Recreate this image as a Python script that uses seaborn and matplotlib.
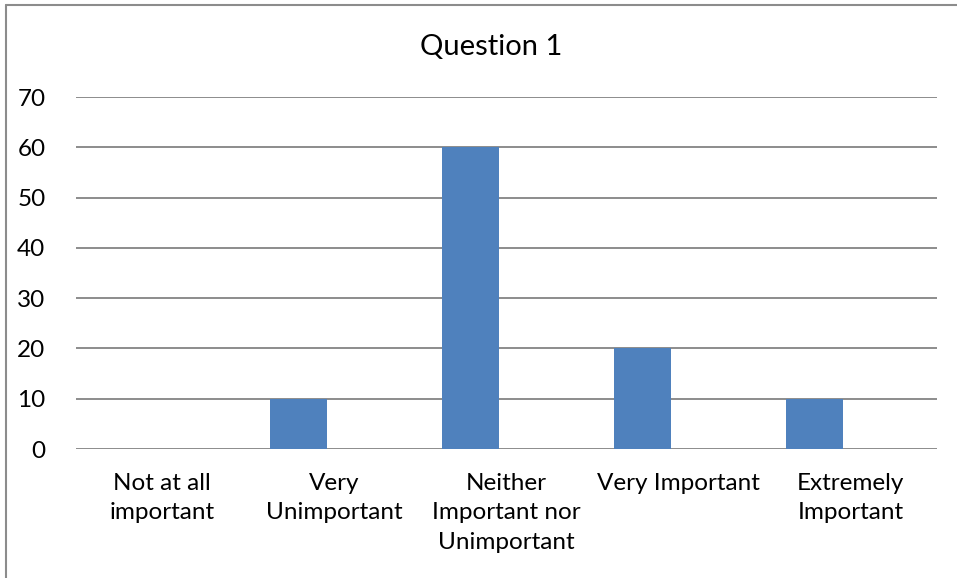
import matplotlib
matplotlib.use("Agg")
import matplotlib.pyplot as plt
import seaborn as sns
import pandas as pd
from matplotlib.lines import Line2D

categories = ["Not at all\nimportant", "Very\nUnimportant", "Neither\nImportant nor\nUnimportant",
              "Very Important", "Extremely\nImportant"]
values = [0, 10, 60, 20, 10]
series2 = [0, 0, 0, 0, 0]
yticks = [0, 10, 20, 30, 40, 50, 60, 70]
title = "Question 1"

df = pd.DataFrame({
    "cat": categories * 2,
    "val": values + series2,
    "series": ["S1"] * len(categories) + ["S2"] * len(categories),
})

sns.set_theme(style="white")
plt.rcParams["font.family"] = ["Lato", "DejaVu Sans"]

fig = plt.figure(figsize=(9.57, 5.78), dpi=100)
ax = fig.add_axes([76/957, 1-449/578, (937-76)/957, (449-97)/578])

sns.barplot(data=df, x="cat", y="val", hue="series", order=categories,
            palette=["#4F81BD", "#C0504D"], width=0.84, gap=0.21, saturation=1,
            legend=False, ax=ax, zorder=3, errorbar=None, linewidth=0)

ax.set_ylim(0, 70)
ax.set_xlim(-0.5, len(categories) - 0.5)
ax.set_yticks(yticks)
ax.set_yticklabels([str(v) for v in yticks])
ax.yaxis.grid(True, color="#8C8C8C", linewidth=1.4, zorder=0)
ax.set_axisbelow(True)
for s in ax.spines.values():
    s.set_visible(False)
ax.set_xlabel("")
ax.set_ylabel("")
ax.tick_params(axis="y", length=0, pad=22, labelsize=17.5, colors="black")
ax.tick_params(axis="x", length=0, pad=17, labelsize=17.5, colors="black")
for lbl in ax.get_xticklabels():
    lbl.set_linespacing(1.5)

fig.text(491/957, 1-47/578, title, ha="center", va="center", fontsize=21, color="black")

# outer chart border (left and top visible)
fig.add_artist(Line2D([6/957, 6/957], [0, 1-5/578], color="#8C8C8C", linewidth=1.5))
fig.add_artist(Line2D([6/957, 1], [1-5/578, 1-5/578], color="#8C8C8C", linewidth=1.5))

fig.savefig("out.png", dpi=100)
